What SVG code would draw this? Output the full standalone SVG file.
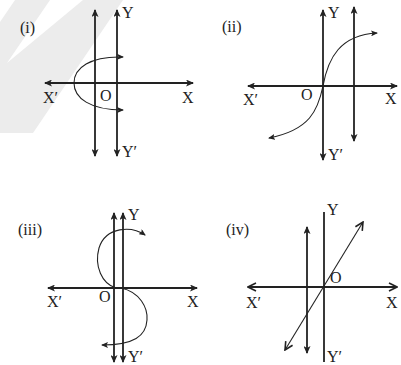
<svg xmlns="http://www.w3.org/2000/svg" width="401" height="365" viewBox="0 0 401 365">
<style>
.ax{stroke:#222;stroke-width:1.8;fill:none}
.cv{stroke:#222;stroke-width:1.1;fill:none}
.t{font-family:"Liberation Serif","Times New Roman",serif;font-size:16px;fill:#222}
</style>
<defs>
<marker id="a" viewBox="0 0 8 7" refX="7" refY="3.5" markerWidth="8" markerHeight="7" markerUnits="userSpaceOnUse" orient="auto-start-reverse">
<path d="M0,0 L8,3.5 L0,7 L2,3.5 z" fill="#222"/>
</marker>
<marker id="s" viewBox="0 0 7 6" refX="6" refY="3" markerWidth="7" markerHeight="6" markerUnits="userSpaceOnUse" orient="auto-start-reverse">
<path d="M0,0 L7,3 L0,6 L1.5,3 z" fill="#222"/>
</marker>
<marker id="o" viewBox="0 0 10 10" refX="9" refY="5" markerWidth="10" markerHeight="10" markerUnits="userSpaceOnUse" orient="auto-start-reverse">
<path d="M1,1 L9,5 L1,9" fill="none" stroke="#222" stroke-width="1.6"/>
</marker>
</defs>
<rect width="401" height="365" fill="#fff"/>
<g id="watermark" fill="#ececec">
<polygon points="15,0 50,0 7,63 83,0 123,0 33,133 0,133 0,22"/>
</g>
<g id="panel-i">
<text class="t" x="20" y="33">(i)</text>
<line class="ax" x1="45" y1="83" x2="193" y2="83" marker-start="url(#a)" marker-end="url(#a)"/>
<line class="ax" x1="117" y1="10" x2="117" y2="156" marker-start="url(#a)" marker-end="url(#a)"/>
<line class="ax" x1="95" y1="10" x2="95" y2="156" marker-start="url(#a)" marker-end="url(#a)"/>
<path class="cv" d="M123,57 C90,56 74,68 74,83 C74,98 90,110 123,110" marker-start="url(#s)" marker-end="url(#s)"/>
<text class="t" x="122" y="18">Y</text>
<text class="t" x="43" y="103">X′</text>
<text class="t" x="100" y="101">O</text>
<text class="t" x="182" y="103">X</text>
<text class="t" x="122" y="157">Y′</text>
</g>
<g id="panel-ii">
<text class="t" x="222" y="32">(ii)</text>
<line class="ax" x1="248" y1="86" x2="397" y2="86" marker-start="url(#a)" marker-end="url(#a)"/>
<line class="ax" x1="323" y1="10" x2="323" y2="160" marker-start="url(#a)" marker-end="url(#a)"/>
<line class="ax" x1="354" y1="7" x2="354" y2="141" marker-start="url(#a)" marker-end="url(#a)"/>
<path class="cv" d="M269,138 C310,130 318,110 323,86 C328,58 340,35 377,33" marker-start="url(#s)" marker-end="url(#s)"/>
<text class="t" x="328" y="18">Y</text>
<text class="t" x="243" y="105">X′</text>
<text class="t" x="301" y="100">O</text>
<text class="t" x="385" y="104">X</text>
<text class="t" x="328" y="160">Y′</text>
</g>
<g id="panel-iii">
<text class="t" x="18" y="235">(iii)</text>
<line class="ax" x1="48" y1="288" x2="197" y2="288" marker-start="url(#a)" marker-end="url(#a)"/>
<line class="ax" x1="114" y1="213" x2="114" y2="362" marker-start="url(#a)" marker-end="url(#a)"/>
<line class="ax" x1="123" y1="213" x2="123" y2="362" marker-start="url(#a)" marker-end="url(#a)"/>
<path class="cv" d="M145,235 C132,226 106,226 99,248 C94,266 102,284 116,288" marker-start="url(#s)"/>
<path class="cv" d="M121,288 C140,292 148,308 147,320 C146,336 134,345 102,345" marker-end="url(#s)"/>
<text class="t" x="128" y="220">Y</text>
<text class="t" x="47" y="307">X′</text>
<text class="t" x="99" y="302">O</text>
<text class="t" x="187" y="307">X</text>
<text class="t" x="128" y="362">Y′</text>
</g>
<g id="panel-iv">
<text class="t" x="226" y="235">(iv)</text>
<line class="ax" x1="248" y1="287" x2="397" y2="287" marker-start="url(#o)" marker-end="url(#o)"/>
<line class="ax" x1="324" y1="212" x2="324" y2="362"/>
<line class="ax" x1="307" y1="227" x2="307" y2="353" marker-start="url(#a)" marker-end="url(#a)"/>
<line class="cv" x1="285" y1="350" x2="363" y2="222" marker-start="url(#o)" marker-end="url(#o)"/>
<text class="t" x="327" y="215">Y</text>
<text class="t" x="330" y="283">O</text>
<text class="t" x="246" y="308">X′</text>
<text class="t" x="386" y="308">X</text>
<text class="t" x="327" y="362">Y′</text>
</g>
</svg>
